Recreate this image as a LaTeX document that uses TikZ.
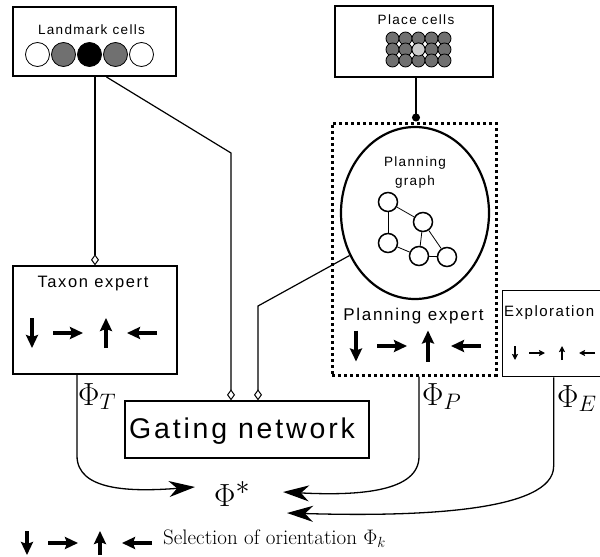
\RequirePackage{fix-cm}
\documentclass[tikz,border=0pt]{standalone}
\usepackage{fontspec}
\newfontfamily\hv[LetterSpace=10]{Liberation Sans}
\usetikzlibrary{arrows.meta,shapes.geometric,calc}
\definecolor{cellgray}{HTML}{707070}
\definecolor{celllight}{HTML}{CCCCCC}
\newcommand\orientrow[8]{%
  \draw[#1] (#2,#6-#7) -- (#2,#6+#7);
  \draw[#1] (#3-#8,#6) -- (#3+#8,#6);
  \draw[#1] (#4,#6+#7) -- (#4,#6-#7);
  \draw[#1] (#5+#8,#6) -- (#5-#8,#6);}
\begin{document}
\begin{tikzpicture}[x=1pt,y=-1pt,
  thickbox/.style={draw, line width=2pt, inner sep=0pt, rectangle},
  thinbox/.style={draw, line width=1.3pt, inner sep=0pt, rectangle},
  conn/.style={line width=1.2pt},
  diam/.style={-{Diamond[open,length=11pt,width=8pt,line width=1pt]}},
  lbl/.style={inner sep=0pt, anchor=base},
  lcell/.style={circle, draw, line width=0.8pt, minimum size=24pt, inner sep=0pt},
  pcell/.style={circle, draw, line width=0.8pt, fill=cellgray, minimum size=13pt, inner sep=0pt},
  gnode/.style={circle, draw, line width=1.5pt, fill=white, minimum size=19pt, inner sep=0pt},
  gedge/.style={line width=0.8pt},
  bigarr/.style={line width=3.6pt, -{Stealth[length=13pt,width=12pt,inset=2pt]}},
  smallarr/.style={line width=1.8pt, -{Stealth[length=6pt,width=6pt,inset=1pt]}},
  flow/.style={line width=1.3pt, -{Stealth[length=26pt,width=16pt,inset=8pt]}},
  philbl/.style={inner sep=0pt, anchor=base west, font=\fontsize{32}{34}\selectfont}]
\useasboundingbox (0,0) rectangle (600,557);

% Landmark cells
\node[thickbox, minimum width=163pt, minimum height=69pt] (lm) at (94.5,41.5) {};
\node[lbl, font=\fontsize{13.5}{15}\hv] (lmlbl) at (91.5,34.5) {Landmark cells};
\node[lcell, fill=white] (l1) at (37.5,54.5) {};
\node[lcell, fill=cellgray] (l2) at (63.5,54.5) {};
\node[lcell, fill=black] (l3) at (89.5,54.5) {};
\node[lcell, fill=cellgray] (l4) at (115.5,54.5) {};
\node[lcell, fill=white] (l5) at (141.5,54.5) {};

% Place cells
\node[thickbox, minimum width=158pt, minimum height=71pt] (place) at (414,41.5) {};
\node[lbl, font=\fontsize{13.5}{15}\hv] (placelbl) at (416,24) {Place cells};
\foreach \r in {0,1,2}
  \foreach \c in {0,...,4}
    \node[pcell] (pc-\r-\c) at ({392.5+13*\c},{38.5+11*\r}) {};
\node[pcell, fill=celllight] (pchi) at (418.5,49.5) {};

% Planning expert
\node[draw, line width=3pt, dash pattern=on 3pt off 3pt, minimum width=164pt, minimum height=252pt, inner sep=0pt] (pexp) at (414,249) {};
\node[draw, ellipse, line width=2.2pt, minimum width=148pt, minimum height=172pt, inner sep=0pt] (pgraph) at (415,213) {};
\node[lbl, font=\fontsize{13.5}{15}\hv] (pg1) at (415,166) {Planning};
\node[lbl, font=\fontsize{13.5}{15}\hv] (pg2) at (415,185) {graph};
\node[gnode] (g1) at (388,202) {};
\node[gnode] (g2) at (423,222) {};
\node[gnode] (g3) at (388,243) {};
\node[gnode] (g4) at (419,256) {};
\node[gnode] (g5) at (447,257) {};
\draw[gedge] (g1) -- (g2);
\draw[gedge] (g1) -- (g3);
\draw[gedge] (g2) -- (g4);
\draw[gedge] (g2) -- (g5);
\draw[gedge] (g3) -- (g4);
\draw[gedge] (g4) -- (g5);
\node[lbl, font=\fontsize{17}{19}\hv] (pexplbl) at (413.5,320) {Planning expert};
\orientrow{bigarr}{356}{392}{428}{466}{346}{15.5}{15}

% Taxon expert
\node[thinbox, minimum width=164pt, minimum height=108pt] (taxon) at (95,320) {};
\node[lbl, font=\fontsize{16.5}{18}\hv] (taxlbl) at (93,287.3) {Taxon expert};
\orientrow{bigarr}{32}{68}{106}{142}{333}{15}{15}

% Exploration
\node[thinbox, minimum width=130pt, minimum height=86pt, anchor=north west] (expl) at (502,290) {};
\node[inner sep=0pt, anchor=base west, font=\fontsize{15}{17}\hv] (expllbl) at (504,316) {Exploration};
\orientrow{smallarr}{515}{537}{562}{587}{353}{7}{8}

% Gating network
\node[thinbox, minimum width=244pt, minimum height=57pt] (gate) at (247,429.5) {};
\node[lbl, font=\fontsize{28.5}{30}\hv] (gatelbl) at (242,438) {Gating network};

% connectors
\coordinate (bend1) at (231,153);
\coordinate (bend2) at (258,306);
\draw[conn, diam] (lm.south -| taxon.north) -- (taxon.north);
\draw[conn, diam] ([xshift=12pt]lm.south) -- (bend1) -- (bend1 |- gate.north);
\draw[conn, diam] (pgraph.213) -- (bend2) -- (bend2 |- gate.north);
\draw[conn, {Circle[length=8pt]}-] ([xshift=2pt]pexp.north) -- ([xshift=2pt]pexp.north |- place.south);

% outputs
\node[philbl] (phiT) at (78,405) {$\Phi_T$};
\node[philbl] (phiP) at (422,405) {$\Phi_P$};
\node[philbl] (phiE) at (557,407) {$\Phi_E$};
\node[philbl] (phistar) at (214,506) {$\Phi^{\mbox{\fontsize{28}{30}\selectfont$*$}}$};
\coordinate (tipT) at (195,487);
\coordinate (tipP) at (283,492);
\coordinate (tipE) at (287,513);
\draw[flow] ([xshift=-18pt]taxon.south) -- ++(0,81) .. controls +(0,35) and +(-65,5) .. (tipT);
\draw[flow] ([xshift=5pt]pexp.south) -- ++(0,80) .. controls +(0,35) and +(77,4) .. (tipP);
\draw[flow] ([xshift=-14pt]expl.south) -- ++(0,89) .. controls +(0,45) and +(133,4) .. (tipE);

% legend
\orientrow{bigarr}{27}{63}{100}{137}{543}{12}{15}
\node[inner sep=0pt, anchor=base west, font=\fontsize{21}{24}\selectfont] (sel) at (163,544) {Selection of orientation $\Phi_k$};
\end{tikzpicture}
\end{document}
